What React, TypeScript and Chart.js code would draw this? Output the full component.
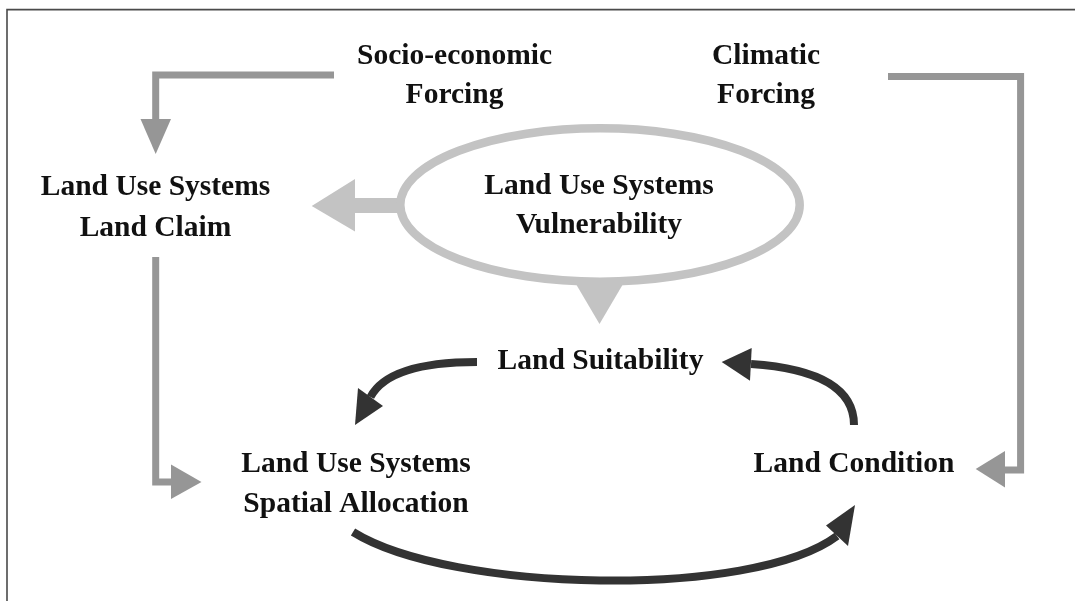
import React, { useEffect, useRef } from "react";
import { Chart, registerables } from "chart.js";

Chart.register(...registerables);

const W = 1075;
const H = 601;

// ---- Text labels (center x, baseline y in diagram units) ----
const labelText = [
  "Socio-economic", "Forcing",
  "Climatic", "Forcing",
  "Land Use Systems", "Land Claim",
  "Land Use Systems", "Vulnerability",
  "Land Suitability",
  "Land Use Systems", "Spatial Allocation",
  "Land Condition",
];
const labelX = [454.5, 454.5, 766, 766, 155.5, 155.5, 599, 599, 600.5, 356, 356, 854];
const labelY = [64, 103, 64, 103, 194.5, 236, 193.5, 232.5, 369, 472, 511.5, 472];

// ---- Gray elbow connectors (vertices) ----
const socioPath = [[334, 75], [155.7, 75], [155.7, 119]];
const claimPath = [[155.7, 257], [155.7, 482], [171, 482]];
const climaticPath = [[888, 76.5], [1020.6, 76.5], [1020.6, 470], [1005, 470]];
const vulnShaft = [[400, 205.5], [355, 205.5]];

// ---- Arrowheads: tip, base corner, base corner ----
const grayHeads = [
  [[155.7, 154], [140.5, 119], [171, 119]],
  [[201.5, 482], [171, 464.6], [171, 499]],
  [[975.7, 469], [1005, 451], [1005, 487.5]],
];
const lightHeads = [
  [[311.7, 206], [355, 179], [355, 231.5]],
  [[599.5, 324], [573, 279], [626, 279]],
];

// ---- Vulnerability ellipse ----
const ellipseCenter = [600, 205];
const ellipseRadii = [199.7, 76.7];

// ---- Dark curved arrows (bezier points) and their heads ----
const curveSuitToAlloc = [[477, 362], [389, 362], [370.5, 397]];
const headSuitToAlloc = [[355, 425], [358, 388], [383, 406]];
const curveCondToSuit = [[854, 425], [854, 371], [751, 364]];
const headCondToSuit = [[721.7, 362], [751.7, 348], [750, 380.7]];
const curveAllocToCond = [[353, 532], [450.6, 592.8], [752.8, 599.2], [837, 536]];
const headAllocToCond = [[855, 505], [826, 525.6], [848, 546]];

// ---- Frame (left and top edges) ----
const framePath = [[7, 601], [7, 9.6], [1075, 9.6]];

const GRAY = "#969696";
const LIGHT = "#c3c3c3";
const DARK = "#333333";
const TEXT = "#111111";
const FONT = "bold 29.5px 'Liberation Serif', 'Times New Roman', serif";

const toPts = (p: number[][]) => p.map(([x, y]) => ({ x, y }));

const diagramPlugin = {
  id: "diagram",
  afterDatasetsDraw(chart: any) {
    const ctx = chart.ctx;
    const sx = chart.scales.x;
    const sy = chart.scales.y;
    const px = (v: number) => sx.getPixelForValue(v);
    const py = (v: number) => sy.getPixelForValue(v);
    ctx.save();

    // frame
    ctx.strokeStyle = "#4a4a4a";
    ctx.lineWidth = 1.6;
    ctx.beginPath();
    framePath.forEach(([x, y], i) => (i ? ctx.lineTo(px(x), py(y)) : ctx.moveTo(px(x), py(y))));
    ctx.stroke();

    // ellipse
    ctx.strokeStyle = LIGHT;
    ctx.lineWidth = 8.5;
    ctx.beginPath();
    ctx.ellipse(
      px(ellipseCenter[0]), py(ellipseCenter[1]),
      Math.abs(px(ellipseCenter[0] + ellipseRadii[0]) - px(ellipseCenter[0])),
      Math.abs(py(ellipseCenter[1] + ellipseRadii[1]) - py(ellipseCenter[1])),
      0, 0, Math.PI * 2
    );
    ctx.stroke();

    const tri = (t: number[][], color: string) => {
      ctx.fillStyle = color;
      ctx.beginPath();
      t.forEach(([x, y], i) => (i ? ctx.lineTo(px(x), py(y)) : ctx.moveTo(px(x), py(y))));
      ctx.closePath();
      ctx.fill();
    };
    grayHeads.forEach((t) => tri(t, GRAY));
    lightHeads.forEach((t) => tri(t, LIGHT));

    // dark curves
    const curve = (c: number[][]) => {
      ctx.strokeStyle = DARK;
      ctx.lineWidth = 8;
      ctx.lineCap = "butt";
      ctx.beginPath();
      ctx.moveTo(px(c[0][0]), py(c[0][1]));
      if (c.length === 3) {
        ctx.quadraticCurveTo(px(c[1][0]), py(c[1][1]), px(c[2][0]), py(c[2][1]));
      } else {
        ctx.bezierCurveTo(px(c[1][0]), py(c[1][1]), px(c[2][0]), py(c[2][1]), px(c[3][0]), py(c[3][1]));
      }
      ctx.stroke();
    };
    curve(curveSuitToAlloc);
    curve(curveCondToSuit);
    curve(curveAllocToCond);
    tri(headSuitToAlloc, DARK);
    tri(headCondToSuit, DARK);
    tri(headAllocToCond, DARK);

    // labels
    ctx.fillStyle = TEXT;
    ctx.font = FONT;
    ctx.textAlign = "center";
    ctx.textBaseline = "alphabetic";
    labelText.forEach((t, i) => ctx.fillText(t, px(labelX[i]), py(labelY[i])));

    ctx.restore();
  },
};

export default function App() {
  const ref = useRef<HTMLCanvasElement | null>(null);
  useEffect(() => {
    if (!ref.current) return;
    const mk = (p: number[][], color: string, width: number) => ({
      data: toPts(p),
      showLine: true,
      borderColor: color,
      backgroundColor: color,
      borderWidth: width,
      pointRadius: 0,
      pointHoverRadius: 0,
      borderJoinStyle: "miter",
      borderCapStyle: "butt",
      tension: 0,
      fill: false,
      clip: false,
    });
    const chart = new Chart(ref.current, {
      type: "scatter",
      data: {
        datasets: [
          mk(socioPath, GRAY, 7),
          mk(claimPath, GRAY, 7),
          mk(climaticPath, GRAY, 7),
          mk(vulnShaft, LIGHT, 15),
        ] as any,
      },
      options: {
        animation: false,
        responsive: false,
        maintainAspectRatio: false,
        events: [],
        layout: { padding: 0 },
        plugins: { legend: { display: false }, tooltip: { enabled: false } },
        scales: {
          x: { type: "linear", min: 0, max: W, display: false },
          y: { type: "linear", min: 0, max: H, reverse: true, display: false },
        },
      },
      plugins: [diagramPlugin],
    });
    return () => chart.destroy();
  }, []);
  return (
    <div style={{ position: "fixed", left: 0, top: 0, width: W, height: H, background: "#fff" }}>
      <canvas ref={ref} width={W} height={H} style={{ display: "block" }} />
    </div>
  );
}
